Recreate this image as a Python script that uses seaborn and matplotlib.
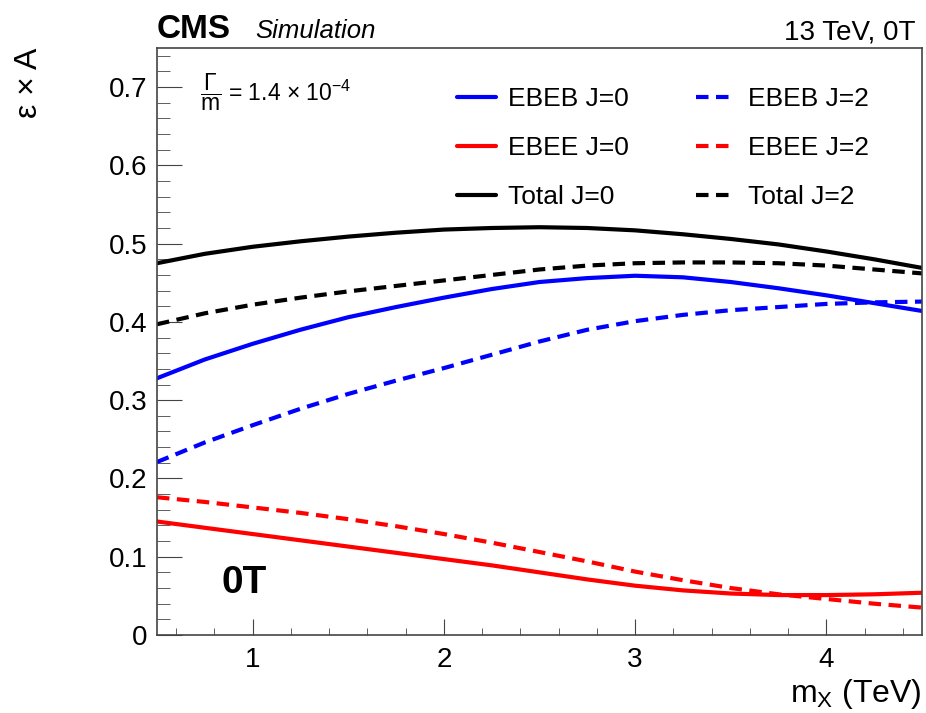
import numpy as np
import pandas as pd
import matplotlib
matplotlib.use("Agg")
import matplotlib.pyplot as plt
from matplotlib.ticker import MultipleLocator, FuncFormatter
import seaborn as sns

# resonance mass in TeV and efficiency x acceptance
mass = [0.5, 0.75, 1.0, 1.25, 1.5, 1.75, 2.0, 2.25, 2.5, 2.75, 3.0, 3.25, 3.5, 3.75, 4.0, 4.25, 4.5]

ebeb_j0 = [0.328, 0.352, 0.372, 0.390, 0.406, 0.419, 0.431, 0.442, 0.451, 0.456, 0.459, 0.457, 0.451, 0.443, 0.434, 0.424, 0.414]
ebeb_j2 = [0.221, 0.246, 0.268, 0.289, 0.308, 0.325, 0.341, 0.358, 0.375, 0.390, 0.401, 0.409, 0.415, 0.419, 0.423, 0.425, 0.426]
ebee_j0 = [0.145, 0.137, 0.129, 0.121, 0.113, 0.105, 0.097, 0.089, 0.080, 0.071, 0.063, 0.057, 0.053, 0.051, 0.051, 0.052, 0.054]
ebee_j2 = [0.176, 0.170, 0.163, 0.156, 0.148, 0.139, 0.129, 0.118, 0.106, 0.094, 0.081, 0.070, 0.060, 0.052, 0.046, 0.040, 0.035]
total_j0 = [0.475, 0.487, 0.496, 0.503, 0.509, 0.514, 0.518, 0.520, 0.521, 0.520, 0.517, 0.512, 0.506, 0.499, 0.490, 0.480, 0.469]
total_j2 = [0.397, 0.411, 0.422, 0.431, 0.439, 0.446, 0.453, 0.460, 0.467, 0.472, 0.475, 0.476, 0.476, 0.475, 0.472, 0.467, 0.462]

labels = ["EBEB J=0", "EBEE J=0", "Total J=0", "EBEB J=2", "EBEE J=2", "Total J=2"]
series = [ebeb_j0, ebee_j0, total_j0, ebeb_j2, ebee_j2, total_j2]
colors = {"EBEB J=0": "#0000ff", "EBEE J=0": "#ff0000", "Total J=0": "#000000",
          "EBEB J=2": "#0000ff", "EBEE J=2": "#ff0000", "Total J=2": "#000000"}
dashes = {l: ("" if l.endswith("0") else (3, 1.8)) for l in labels}

df = pd.concat([pd.DataFrame({"mass": mass, "eff": s, "label": l}) for l, s in zip(labels, series)])

sns.set_style("ticks")
plt.rcParams["font.family"] = ["Liberation Sans", "DejaVu Sans"]
plt.rcParams["text.color"] = "black"
plt.rcParams["axes.labelcolor"] = "black"
plt.rcParams["mathtext.fontset"] = "custom"
plt.rcParams["mathtext.rm"] = "Liberation Sans"
plt.rcParams["mathtext.it"] = "Liberation Sans:italic"

fig = plt.figure(figsize=(9.26, 7.13), dpi=100)
ax = fig.add_axes([0.1695, 0.1094, 0.8262, 0.8233])

sns.lineplot(data=df, x="mass", y="eff", hue="label", style="label", hue_order=labels,
             style_order=labels, palette=colors, dashes=dashes, linewidth=3, ax=ax)

handles, labs = ax.get_legend_handles_labels()
ax.legend(handles, labs, ncol=2, loc="upper left", bbox_to_anchor=(0.392, 0.933),
          frameon=False, fontsize=19, handlelength=1.5, handletextpad=0.45,
          columnspacing=2.55, labelspacing=0.95, borderpad=0, borderaxespad=0)

ax.set_xlim(0.5, 4.5)
ax.set_ylim(0, 0.75)
ax.xaxis.set_major_locator(MultipleLocator(1))
ax.xaxis.set_minor_locator(MultipleLocator(0.2))
ax.yaxis.set_major_locator(MultipleLocator(0.1))
ax.yaxis.set_minor_locator(MultipleLocator(0.02))
ax.yaxis.set_major_formatter(FuncFormatter(lambda v, p: f"{v:g}"))

for s in ax.spines.values():
    s.set_color("#444444")
    s.set_linewidth(1.2)
ax.tick_params(axis="both", which="both", direction="in", colors="#444444", labelcolor="black", labelsize=20)
ax.tick_params(axis="y", which="major", length=18, pad=7)
ax.tick_params(axis="y", which="minor", length=9)
ax.tick_params(axis="x", which="major", length=11.5, pad=9)
ax.tick_params(axis="x", which="minor", length=5)

ax.set_xlabel(r"m$_{\mathrm{X}}$ (TeV)", fontsize=23, loc="right")
ax.xaxis.set_label_coords(1.0, -0.072)
ax.set_ylabel("ε × A", fontsize=23, loc="top")
ax.yaxis.set_label_coords(-0.148, 1.0)

ax.text(0.0, 1.017, "CMS", transform=ax.transAxes, fontsize=24, fontweight="bold", va="baseline")
ax.text(0.128, 1.017, "Simulation", transform=ax.transAxes, fontsize=18.5, fontstyle="italic", va="baseline")
ax.text(0.991, 1.014, "13 TeV, 0T", transform=ax.transAxes, fontsize=20, ha="right", va="baseline")
ax.text(0.056, 0.925, r"$\dfrac{\Gamma}{\mathrm{m}}$ = 1.4 $\times$ 10$^{-4}$", transform=ax.transAxes,
        fontsize=16.5, va="center")
ax.text(0.085, 0.072, "0T", transform=ax.transAxes, fontsize=28, fontweight="bold", va="baseline")

fig.savefig("out.png", dpi=100)
